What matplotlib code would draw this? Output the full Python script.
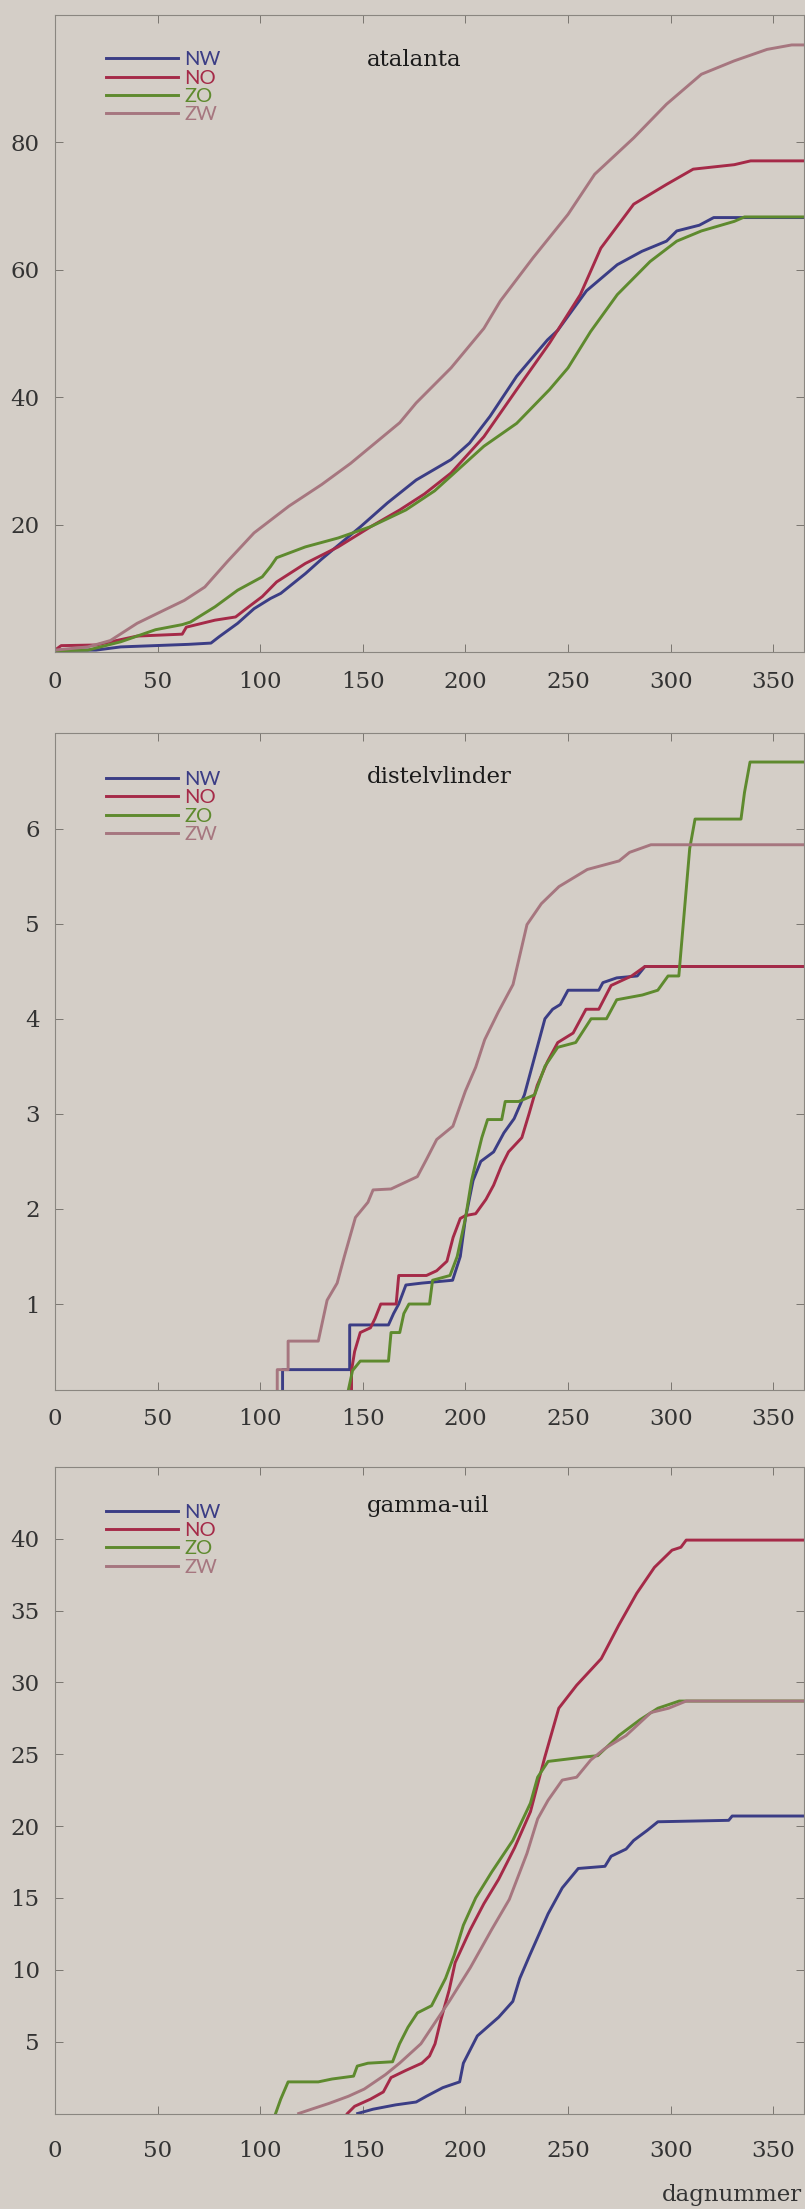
import matplotlib
matplotlib.use('Agg')
import matplotlib.pyplot as plt

# Cumulative counts per region (NW, NO, ZO, ZW) against day number

REGIONS = ['NW', 'NO', 'ZO', 'ZW']
COLORS = ['#3b3d85', '#a52a48', '#5e8a2e', '#a6767f']
BG = '#d4cec7'

XTICKS = [0, 50, 100, 150, 200, 250, 300, 350]

# --- atalanta ---
ATA_NW_X = [0, 20, 32, 65, 76, 80, 89, 97, 105, 110, 122, 130, 149, 162, 176, 193, 202, 212, 225, 240,
            245, 259, 274, 286, 298, 303, 314, 321, 365]
ATA_NW_Y = [0.3, 0.3, 0.8, 1.2, 1.4, 2.4, 4.5, 6.8, 8.4, 9.2, 12.3, 14.6, 19.7, 23.4, 27.0, 30.2, 32.8,
            37.0, 43.3, 49.0, 50.5, 56.7, 60.8, 62.9, 64.5, 66.1, 67.0, 68.2, 68.2]
ATA_NO_X = [0, 3, 20, 40, 62, 64, 78, 88, 94, 101, 108, 122, 138, 154, 168, 180, 193, 209, 225, 241,
            256, 266, 282, 298, 311, 331, 339, 365]
ATA_NO_Y = [0.3, 1.0, 1.1, 2.5, 2.8, 3.9, 5.0, 5.5, 7.0, 8.7, 11.0, 13.9, 16.5, 19.7, 22.3, 24.8, 28.1,
            33.8, 41.2, 48.5, 56.1, 63.4, 70.3, 73.4, 75.8, 76.5, 77.1, 77.1]
ATA_ZO_X = [0, 16, 32, 49, 62, 66, 78, 89, 101, 105, 108, 122, 138, 154, 171, 185, 209, 225, 241, 250,
            261, 274, 290, 303, 315, 331, 336, 365]
ATA_ZO_Y = [0.2, 0.3, 1.6, 3.5, 4.3, 4.7, 7.1, 9.7, 11.8, 13.4, 14.8, 16.5, 17.9, 19.7, 22.3, 25.3, 32.3,
            35.9, 41.2, 44.6, 50.3, 56.1, 61.3, 64.5, 66.1, 67.6, 68.3, 68.3]
ATA_ZW_X = [0, 16, 27, 40, 54, 63, 73, 84, 97, 114, 130, 144, 168, 176, 193, 209, 217, 233, 250, 263,
            282, 298, 315, 331, 347, 359, 365]
ATA_ZW_Y = [0.3, 0.8, 1.8, 4.5, 6.7, 8.1, 10.2, 14.2, 18.7, 22.9, 26.3, 29.6, 36.0, 39.1, 44.6, 50.8,
            55.1, 61.9, 68.7, 75.0, 80.7, 86.0, 90.7, 92.8, 94.6, 95.3, 95.3]

# --- distelvlinder ---
DIS_NW_X = [110.9, 110.9, 143.6, 143.6, 162.5, 165, 167.5, 171, 178.75, 193.75, 197.5, 200, 203.75,
            207.5, 213.75, 218.75, 223.75, 228.75, 233.75, 238.75, 242.5, 246.25, 250, 265, 267, 273.75,
            283.75, 287.5, 365]
DIS_NW_Y = [0, 0.31, 0.31, 0.78, 0.78, 0.9, 1.0, 1.2, 1.22, 1.25, 1.5, 1.9, 2.3, 2.5, 2.6, 2.8, 2.95,
            3.2, 3.6, 4.0, 4.1, 4.15, 4.3, 4.3, 4.38, 4.43, 4.45, 4.55, 4.55]
DIS_NO_X = [144.5, 144.5, 146, 148.75, 153.75, 156, 158.75, 166.25, 167.5, 181, 186, 191, 194, 197.5,
            200, 205, 210, 213.75, 217.5, 221, 227.5, 231, 235, 240, 245, 252.5, 258.75, 265, 271, 276,
            281, 287.5, 365]
DIS_NO_Y = [0, 0.3, 0.5, 0.7, 0.75, 0.85, 1.0, 1.0, 1.3, 1.3, 1.35, 1.45, 1.7, 1.9, 1.93, 1.95, 2.1,
            2.25, 2.45, 2.6, 2.75, 3.0, 3.3, 3.55, 3.75, 3.85, 4.1, 4.1, 4.35, 4.4, 4.45, 4.55, 4.55]
DIS_ZO_X = [142, 145, 148.75, 162.5, 163.75, 168, 170, 172.5, 182.5, 184, 192.5, 196, 200, 203, 205.6,
            208, 210.8, 217.7, 219.4, 226, 233.75, 238.75, 245, 253.75, 261.25, 268.75, 273.75, 286.25,
            293.75, 298.75, 304, 309.3, 311.9, 334.3, 336, 338.7, 365]
DIS_ZO_Y = [0, 0.3, 0.4, 0.4, 0.7, 0.7, 0.9, 1.0, 1.0, 1.25, 1.3, 1.5, 1.9, 2.3, 2.54, 2.75, 2.94, 2.94,
            3.13, 3.13, 3.2, 3.5, 3.7, 3.75, 4.0, 4.0, 4.2, 4.25, 4.3, 4.45, 4.45, 5.79, 6.1, 6.1, 6.38,
            6.7, 6.7]
DIS_ZW_X = [108.3, 108.3, 113.6, 113.6, 128.3, 132.6, 137.5, 141, 146.4, 152.5, 155, 163.75, 176.6,
            181, 186, 193.9, 200, 205, 209.4, 216, 223.2, 230, 237, 245.6, 259.4, 274.9, 280, 290.4, 365]
DIS_ZW_Y = [0, 0.31, 0.31, 0.61, 0.61, 1.04, 1.22, 1.5, 1.91, 2.07, 2.2, 2.21, 2.34, 2.52, 2.73, 2.87,
            3.24, 3.49, 3.78, 4.07, 4.36, 4.99, 5.21, 5.39, 5.57, 5.66, 5.75, 5.83, 5.83]

# --- gamma-uil ---
GAM_NW_X = [147.5, 155, 166, 176, 181, 189, 197.2, 199, 205.8, 216.2, 223.1, 226.5, 231.3, 240.3, 247.2,
            255, 268, 271, 278.3, 282, 288.6, 293.8, 328.3, 330, 365]
GAM_NW_Y = [0.0, 0.3, 0.6, 0.8, 1.2, 1.8, 2.2, 3.5, 5.4, 6.7, 7.8, 9.4, 11.0, 13.9, 15.7, 17.05, 17.2,
            17.9, 18.4, 19.0, 19.7, 20.3, 20.4, 20.7, 20.7]
GAM_NO_X = [142.5, 146, 153.75, 160, 163.75, 171, 178.75, 182.5, 185.2, 188, 192.1, 195, 202.4, 209,
            216.2, 224, 231.7, 238.6, 245.5, 254.2, 266.2, 274.8, 283.5, 292.1, 300.7, 305, 307.6, 365]
GAM_NO_Y = [0.0, 0.5, 1.0, 1.5, 2.5, 3.0, 3.5, 4.0, 4.85, 6.5, 8.6, 10.5, 12.8, 14.6, 16.3, 18.5, 21.0,
            24.75, 28.2, 29.8, 31.65, 34.0, 36.2, 38.0, 39.2, 39.4, 39.9, 39.9]
GAM_ZO_X = [107.5, 110, 113.6, 128.3, 135, 145.5, 147.3, 152.5, 164.5, 167.9, 172, 176.6, 183.5, 190.3,
            194.5, 199, 205, 212.8, 223.1, 231.7, 235.2, 240.3, 257.6, 264.5, 274.8, 285.1, 293.8, 304.2,
            365]
GAM_ZO_Y = [0.0, 1.0, 2.2, 2.2, 2.4, 2.6, 3.3, 3.5, 3.6, 4.85, 6.0, 7.0, 7.5, 9.4, 11.0, 13.1, 15.0,
            16.8, 19.0, 21.6, 23.4, 24.5, 24.8, 24.9, 26.3, 27.4, 28.2, 28.7, 28.7]
GAM_ZW_X = [118.75, 125, 133.5, 143, 150.7, 161, 167.9, 178.3, 186, 192.1, 202.4, 212.8, 221.4, 230,
            235.2, 240.3, 247.2, 254.2, 261.1, 268, 278.3, 290.4, 299, 307.6, 365]
GAM_ZW_Y = [0.0, 0.3, 0.7, 1.2, 1.7, 2.7, 3.5, 4.85, 6.5, 7.8, 10.15, 12.8, 14.9, 18.1, 20.5, 21.8, 23.2,
            23.4, 24.6, 25.4, 26.3, 27.9, 28.2, 28.7, 28.7]

plt.rcParams['font.family'] = ['DejaVu Serif']

W, H = 805., 2209.


def panel_axes(fig, left, top, right, bottom):
    """ Axes placed by pixel edges of the 805x2209 canvas """
    return fig.add_axes([left / W, 1 - bottom / H, (right - left) / W, (bottom - top) / H])


def draw_panel(ax, title, series, ylim, yticks, xpad, title_y):
    ax.set_facecolor(BG)
    for (x, y), name, col in zip(series, REGIONS, COLORS):
        ax.plot(x, y, color=col, lw=2.1, label=name)

    ax.set_xlim(0, 365)
    ax.set_ylim(*ylim)
    ax.set_xticks(XTICKS)
    ax.set_yticks(yticks)

    ax.tick_params(direction='in', top=True, right=True, length=6, width=0.7, color='#7a7670',
                   labelsize=16.5, labelcolor='#333333')
    ax.tick_params(axis='x', pad=xpad)
    ax.tick_params(axis='y', pad=11)
    for sp in ax.spines.values():
        sp.set_color('#8a8680')
        sp.set_linewidth(0.8)

    ax.text(0.416, title_y, title, transform=ax.transAxes, ha='left', va='center',
            fontsize=16.5, color='#1a1a1a')

    ax.legend(loc='upper left', bbox_to_anchor=(0.068, 0.943), frameon=False,
              prop={'family': 'Lato', 'size': 14.5}, labelcolor='linecolor',
              handlelength=3.6, handletextpad=0.3, labelspacing=0.06,
              borderaxespad=0, borderpad=0)


fig = plt.figure(figsize=(W / 100, H / 100), dpi=100, facecolor=BG)

ax1 = panel_axes(fig, 55, 15, 804, 652)
draw_panel(ax1, 'atalanta',
           [(ATA_NW_X, ATA_NW_Y), (ATA_NO_X, ATA_NO_Y), (ATA_ZO_X, ATA_ZO_Y), (ATA_ZW_X, ATA_ZW_Y)],
           (0, 100), [20, 40, 60, 80], 14, 0.930)

ax2 = panel_axes(fig, 55, 733.5, 804, 1389.6)
draw_panel(ax2, 'distelvlinder',
           [(DIS_NW_X, DIS_NW_Y), (DIS_NO_X, DIS_NO_Y), (DIS_ZO_X, DIS_ZO_Y), (DIS_ZW_X, DIS_ZW_Y)],
           (0.1, 7.0), [1, 2, 3, 4, 5, 6], 13, 0.933)

ax3 = panel_axes(fig, 55, 1466.8, 804, 2113.5)
draw_panel(ax3, 'gamma-uil',
           [(GAM_NW_X, GAM_NW_Y), (GAM_NO_X, GAM_NO_Y), (GAM_ZO_X, GAM_ZO_Y), (GAM_ZW_X, GAM_ZW_Y)],
           (0, 45), [5, 10, 15, 20, 25, 30, 35, 40], 19, 0.940)

fig.text(802 / W, 1 - 2195 / H, 'dagnummer', ha='right', va='center', fontsize=16.5, color='#333333')

fig.savefig('out.png', dpi=100, facecolor=BG)
